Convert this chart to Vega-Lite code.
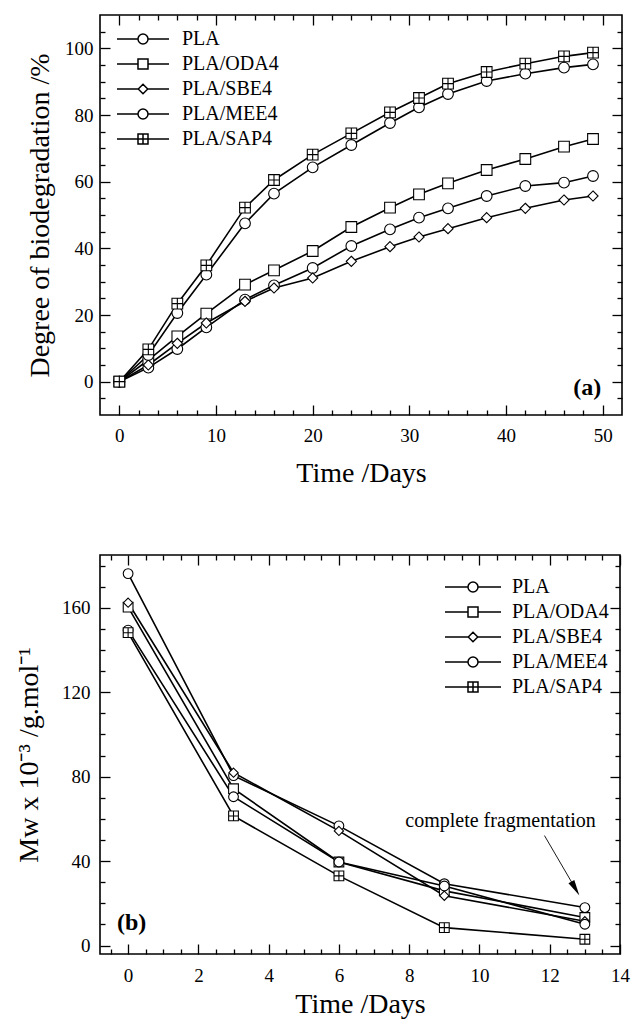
{
  "$schema": "https://vega.github.io/schema/vega-lite/v6.json",
  "background": "white",
  "padding": {"left": 14, "top": 13, "right": 0, "bottom": 0},
  "spacing": 140,
  "bounds": "flush",
  "datasets": {
    "top": [
      {"t": 0, "deg": 0, "s": "PLA"}, {"t": 3, "deg": 4.2, "s": "PLA"}, {"t": 6, "deg": 9.8, "s": "PLA"}, {"t": 9, "deg": 16.3, "s": "PLA"}, {"t": 13, "deg": 24.6, "s": "PLA"}, {"t": 16, "deg": 28.9, "s": "PLA"}, {"t": 20, "deg": 34.1, "s": "PLA"}, {"t": 24, "deg": 40.7, "s": "PLA"}, {"t": 28, "deg": 45.7, "s": "PLA"}, {"t": 31, "deg": 49.2, "s": "PLA"}, {"t": 34, "deg": 52.0, "s": "PLA"}, {"t": 38, "deg": 55.7, "s": "PLA"}, {"t": 42, "deg": 58.7, "s": "PLA"}, {"t": 46, "deg": 59.7, "s": "PLA"}, {"t": 49, "deg": 61.7, "s": "PLA"},
      {"t": 0, "deg": 0, "s": "PLA/ODA4"}, {"t": 3, "deg": 6.5, "s": "PLA/ODA4"}, {"t": 6, "deg": 13.6, "s": "PLA/ODA4"}, {"t": 9, "deg": 20.4, "s": "PLA/ODA4"}, {"t": 13, "deg": 29.1, "s": "PLA/ODA4"}, {"t": 16, "deg": 33.4, "s": "PLA/ODA4"}, {"t": 20, "deg": 39.2, "s": "PLA/ODA4"}, {"t": 24, "deg": 46.4, "s": "PLA/ODA4"}, {"t": 28, "deg": 52.2, "s": "PLA/ODA4"}, {"t": 31, "deg": 56.2, "s": "PLA/ODA4"}, {"t": 34, "deg": 59.5, "s": "PLA/ODA4"}, {"t": 38, "deg": 63.5, "s": "PLA/ODA4"}, {"t": 42, "deg": 66.8, "s": "PLA/ODA4"}, {"t": 46, "deg": 70.5, "s": "PLA/ODA4"}, {"t": 49, "deg": 72.8, "s": "PLA/ODA4"},
      {"t": 0, "deg": 0, "s": "PLA/SBE4"}, {"t": 3, "deg": 5.0, "s": "PLA/SBE4"}, {"t": 6, "deg": 11.5, "s": "PLA/SBE4"}, {"t": 9, "deg": 17.6, "s": "PLA/SBE4"}, {"t": 13, "deg": 24.1, "s": "PLA/SBE4"}, {"t": 16, "deg": 28.1, "s": "PLA/SBE4"}, {"t": 20, "deg": 31.1, "s": "PLA/SBE4"}, {"t": 24, "deg": 36.1, "s": "PLA/SBE4"}, {"t": 28, "deg": 40.5, "s": "PLA/SBE4"}, {"t": 31, "deg": 43.4, "s": "PLA/SBE4"}, {"t": 34, "deg": 45.9, "s": "PLA/SBE4"}, {"t": 38, "deg": 49.2, "s": "PLA/SBE4"}, {"t": 42, "deg": 52.0, "s": "PLA/SBE4"}, {"t": 46, "deg": 54.5, "s": "PLA/SBE4"}, {"t": 49, "deg": 55.7, "s": "PLA/SBE4"},
      {"t": 0, "deg": 0, "s": "PLA/MEE4"}, {"t": 3, "deg": 8.0, "s": "PLA/MEE4"}, {"t": 6, "deg": 20.6, "s": "PLA/MEE4"}, {"t": 9, "deg": 32.1, "s": "PLA/MEE4"}, {"t": 13, "deg": 47.5, "s": "PLA/MEE4"}, {"t": 16, "deg": 56.4, "s": "PLA/MEE4"}, {"t": 20, "deg": 64.3, "s": "PLA/MEE4"}, {"t": 24, "deg": 71.0, "s": "PLA/MEE4"}, {"t": 28, "deg": 77.6, "s": "PLA/MEE4"}, {"t": 31, "deg": 82.3, "s": "PLA/MEE4"}, {"t": 34, "deg": 86.3, "s": "PLA/MEE4"}, {"t": 38, "deg": 90.2, "s": "PLA/MEE4"}, {"t": 42, "deg": 92.4, "s": "PLA/MEE4"}, {"t": 46, "deg": 94.2, "s": "PLA/MEE4"}, {"t": 49, "deg": 95.2, "s": "PLA/MEE4"},
      {"t": 0, "deg": 0, "s": "PLA/SAP4"}, {"t": 3, "deg": 9.7, "s": "PLA/SAP4"}, {"t": 6, "deg": 23.4, "s": "PLA/SAP4"}, {"t": 9, "deg": 34.9, "s": "PLA/SAP4"}, {"t": 13, "deg": 52.2, "s": "PLA/SAP4"}, {"t": 16, "deg": 60.5, "s": "PLA/SAP4"}, {"t": 20, "deg": 68.1, "s": "PLA/SAP4"}, {"t": 24, "deg": 74.5, "s": "PLA/SAP4"}, {"t": 28, "deg": 80.8, "s": "PLA/SAP4"}, {"t": 31, "deg": 85.1, "s": "PLA/SAP4"}, {"t": 34, "deg": 89.4, "s": "PLA/SAP4"}, {"t": 38, "deg": 92.9, "s": "PLA/SAP4"}, {"t": 42, "deg": 95.4, "s": "PLA/SAP4"}, {"t": 46, "deg": 97.6, "s": "PLA/SAP4"}, {"t": 49, "deg": 98.7, "s": "PLA/SAP4"}
    ],
    "bottom": [
      {"t": 0, "mw": 176.2, "s": "PLA"}, {"t": 3, "mw": 80.5, "s": "PLA"}, {"t": 6, "mw": 56.7, "s": "PLA"}, {"t": 9, "mw": 29.3, "s": "PLA"}, {"t": 13, "mw": 18.0, "s": "PLA"},
      {"t": 0, "mw": 160.3, "s": "PLA/ODA4"}, {"t": 3, "mw": 74.3, "s": "PLA/ODA4"}, {"t": 6, "mw": 39.6, "s": "PLA/ODA4"}, {"t": 9, "mw": 25.9, "s": "PLA/ODA4"}, {"t": 13, "mw": 13.3, "s": "PLA/ODA4"},
      {"t": 0, "mw": 162.4, "s": "PLA/SBE4"}, {"t": 3, "mw": 81.9, "s": "PLA/SBE4"}, {"t": 6, "mw": 54.3, "s": "PLA/SBE4"}, {"t": 9, "mw": 23.6, "s": "PLA/SBE4"}, {"t": 13, "mw": 11.5, "s": "PLA/SBE4"},
      {"t": 0, "mw": 149.4, "s": "PLA/MEE4"}, {"t": 3, "mw": 70.5, "s": "PLA/MEE4"}, {"t": 6, "mw": 39.6, "s": "PLA/MEE4"}, {"t": 9, "mw": 28.2, "s": "PLA/MEE4"}, {"t": 13, "mw": 10.1, "s": "PLA/MEE4"},
      {"t": 0, "mw": 148.2, "s": "PLA/SAP4"}, {"t": 3, "mw": 61.4, "s": "PLA/SAP4"}, {"t": 6, "mw": 33.0, "s": "PLA/SAP4"}, {"t": 9, "mw": 8.5, "s": "PLA/SAP4"}, {"t": 13, "mw": 3.0, "s": "PLA/SAP4"}
    ]
  },
  "vconcat": [
    {
      "width": 522,
      "height": 400,
      "layer": [
        {
          "encoding": {
            "x": {"field": "t", "type": "quantitative", "scale": {"domain": [-2, 52], "nice": false, "zero": false},
              "axis": {"orient": "bottom", "title": "Time /Days", "values": [0,2,4,6,8,10,12,14,16,18,20,22,24,26,28,30,32,34,36,38,40,42,44,46,48,50],
                "labelExpr": "datum.value % 10 === 0 ? datum.label : ''",
                "tickSize": {"condition": {"test": "datum.value % 10 === 0", "value": -10}, "value": -5},
                "labelPadding": 21, "titlePadding": 9}},
            "y": {"field": "deg", "type": "quantitative", "scale": {"domain": [-10, 110], "nice": false, "zero": false},
              "axis": {"orient": "left", "title": "Degree of biodegradation /%", "values": [-5,0,5,10,15,20,25,30,35,40,45,50,55,60,65,70,75,80,85,90,95,100,105],
                "labelExpr": "datum.value % 20 === 0 ? datum.label : ''",
                "tickSize": {"condition": {"test": "datum.value % 20 === 0", "value": -10}, "value": -5},
                "labelPadding": 17, "titlePadding": 10}}
          },
          "layer": [
            {"data": {"name": "top"}, "mark": {"type": "line", "color": "black", "strokeWidth": 1.6}, "encoding": {"detail": {"field": "s"}}},
            {"data": {"name": "top"}, "mark": {"type": "point", "filled": true, "fill": "white", "stroke": "black", "strokeWidth": 1.1, "size": 115, "opacity": 1},
              "encoding": {"shape": {"field": "s", "type": "nominal", "legend": null,
                "scale": {"domain": ["PLA", "PLA/ODA4", "PLA/SBE4", "PLA/MEE4", "PLA/SAP4"],
                  "range": ["M1,0A1,1,0,1,1,-1,0A1,1,0,1,1,1,0Z", "M-1,-1H1V1H-1Z", "M0,-0.95L0.95,0L0,0.95L-0.95,0Z", "M1,0A1,1,0,1,1,-1,0A1,1,0,1,1,1,0Z", "M-1,-1H1V1H-1Z M0,-1V1 M-1,0H1"]}}}},
            {"data": {"name": "top"}, "transform": [{"filter": "false"}],
              "mark": {"type": "point", "filled": true, "fill": "white", "stroke": "black", "strokeWidth": 1.1, "size": 121, "opacity": 1},
              "encoding": {"shape": {"field": "s", "type": "nominal",
                "scale": {"domain": ["PLA", "PLA/ODA4", "PLA/SBE4", "PLA/MEE4", "PLA/SAP4"],
                  "range": ["M1,0A1,1,0,1,1,-1,0A1,1,0,1,1,1,0Z M-5.2,0H-1 M1,0H5.2", "M-1,-1H1V1H-1Z M-5.2,0H-1 M1,0H5.2", "M0,-0.95L0.95,0L0,0.95L-0.95,0Z M-5.2,0H-0.95 M0.95,0H5.2", "M1,0A1,1,0,1,1,-1,0A1,1,0,1,1,1,0Z M-5.2,0H-1 M1,0H5.2", "M-1,-1H1V1H-1Z M0,-1V1 M-1,0H1 M-5.2,0H-1 M1,0H5.2"]},
                "legend": {"title": null, "orient": "none", "legendX": 33, "legendY": 14,
                  "labelFont": "Liberation Serif", "labelFontSize": 20, "labelColor": "black",
                  "labelOffset": 29, "rowPadding": 5}}}},
            {"data": {"values": [{"t": 48.4, "deg": -2, "label": "(a)"}]}, "mark": {"type": "text", "font": "Liberation Serif", "fontWeight": "bold", "fontSize": 24, "color": "black", "align": "center", "baseline": "middle"},
              "encoding": {"text": {"field": "label"}}}
          ],
          "resolve": {"scale": {"shape": "independent"}, "legend": {"shape": "independent"}}
        },
        {
          "data": {"name": "top"},
          "mark": {"type": "point", "opacity": 0},
          "encoding": {
            "x": {"field": "t", "type": "quantitative", "scale": {"domain": [-2, 52], "nice": false, "zero": false},
              "axis": {"orient": "top", "title": null, "labels": false, "values": [0,2,4,6,8,10,12,14,16,18,20,22,24,26,28,30,32,34,36,38,40,42,44,46,48,50],
                "tickSize": {"condition": {"test": "datum.value % 10 === 0", "value": -10}, "value": -5}}},
            "y": {"field": "deg", "type": "quantitative", "scale": {"domain": [-10, 110], "nice": false, "zero": false},
              "axis": {"orient": "right", "title": null, "labels": false, "values": [-5,0,5,10,15,20,25,30,35,40,45,50,55,60,65,70,75,80,85,90,95,100,105],
                "tickSize": {"condition": {"test": "datum.value % 20 === 0", "value": -10}, "value": -5}}}
          }
        }
      ],
      "resolve": {"axis": {"x": "independent", "y": "independent"}}
    },
    {
      "width": 520,
      "height": 399,
      "layer": [
        {
          "encoding": {
            "x": {"field": "t", "type": "quantitative", "scale": {"domain": [-0.8, 14], "nice": false, "zero": false},
              "axis": {"orient": "bottom", "title": "Time /Days", "values": [-0.5,0,0.5,1,1.5,2,2.5,3,3.5,4,4.5,5,5.5,6,6.5,7,7.5,8,8.5,9,9.5,10,10.5,11,11.5,12,12.5,13,13.5,14],
                "labelExpr": "datum.value % 2 === 0 ? '' + datum.value : ''",
                "tickSize": {"condition": {"test": "datum.value % 2 === 0", "value": -10}, "value": -5},
                "labelPadding": 22, "titlePadding": 0}},
            "y": {"field": "mw", "type": "quantitative", "scale": {"domain": [-4, 185], "nice": false, "zero": false},
              "axis": {"orient": "left", "title": "Mw x 10⁻³ /g.mol⁻¹", "values": [0,10,20,30,40,50,60,70,80,90,100,110,120,130,140,150,160,170,180],
                "labelExpr": "datum.value % 40 === 0 ? datum.label : ''",
                "tickSize": {"condition": {"test": "datum.value % 40 === 0", "value": -10}, "value": -5},
                "labelPadding": 20, "titlePadding": 18}}
          },
          "layer": [
            {"data": {"name": "bottom"}, "mark": {"type": "line", "color": "black", "strokeWidth": 1.6}, "encoding": {"detail": {"field": "s"}}},
            {"data": {"name": "bottom"}, "mark": {"type": "point", "filled": true, "fill": "white", "stroke": "black", "strokeWidth": 1.1, "size": 95, "opacity": 1},
              "encoding": {"shape": {"field": "s", "type": "nominal", "legend": null,
                "scale": {"domain": ["PLA", "PLA/ODA4", "PLA/SBE4", "PLA/MEE4", "PLA/SAP4"],
                  "range": ["M1,0A1,1,0,1,1,-1,0A1,1,0,1,1,1,0Z", "M-1,-1H1V1H-1Z", "M0,-0.95L0.95,0L0,0.95L-0.95,0Z", "M1,0A1,1,0,1,1,-1,0A1,1,0,1,1,1,0Z", "M-1,-1H1V1H-1Z M0,-1V1 M-1,0H1"]}}}},
            {"data": {"name": "bottom"}, "transform": [{"filter": "false"}],
              "mark": {"type": "point", "filled": true, "fill": "white", "stroke": "black", "strokeWidth": 1.1, "size": 100, "opacity": 1},
              "encoding": {"shape": {"field": "s", "type": "nominal",
                "scale": {"domain": ["PLA", "PLA/ODA4", "PLA/SBE4", "PLA/MEE4", "PLA/SAP4"],
                  "range": ["M1,0A1,1,0,1,1,-1,0A1,1,0,1,1,1,0Z M-5.6,0H-1 M1,0H5.6", "M-1,-1H1V1H-1Z M-5.6,0H-1 M1,0H5.6", "M0,-0.95L0.95,0L0,0.95L-0.95,0Z M-5.6,0H-0.95 M0.95,0H5.6", "M1,0A1,1,0,1,1,-1,0A1,1,0,1,1,1,0Z M-5.6,0H-1 M1,0H5.6", "M-1,-1H1V1H-1Z M0,-1V1 M-1,0H1 M-5.6,0H-1 M1,0H5.6"]},
                "legend": {"title": null, "orient": "none", "legendX": 363, "legendY": 22,
                  "labelFont": "Liberation Serif", "labelFontSize": 20, "labelColor": "black",
                  "labelOffset": 29, "rowPadding": 5}}}},
            {"data": {"values": [{"t": 0.1, "mw": 10.9, "label": "(b)"}]}, "mark": {"type": "text", "font": "Liberation Serif", "fontWeight": "bold", "fontSize": 24, "color": "black", "align": "center", "baseline": "middle"},
              "encoding": {"text": {"field": "label"}}},
            {"data": {"values": [{"t": 10.6, "mw": 59.2, "label": "complete fragmentation"}]}, "mark": {"type": "text", "font": "Liberation Serif", "fontSize": 20, "color": "black", "align": "center", "baseline": "middle"},
              "encoding": {"text": {"field": "label"}}},
            {"data": {"values": [{"t": 11.85, "mw": 52.1, "t2": 12.73, "mw2": 27.0}]}, "mark": {"type": "rule", "color": "black", "strokeWidth": 0.9},
              "encoding": {"x2": {"field": "t2"}, "y2": {"field": "mw2"}}},
            {"data": {"values": [{"t": 12.73, "mw": 27.0}]}, "mark": {"type": "point", "shape": "M0,1L-0.42,-1L0.42,-1Z", "filled": true, "color": "black", "size": 256, "angle": 330, "opacity": 1}}
          ],
          "resolve": {"scale": {"shape": "independent"}, "legend": {"shape": "independent"}}
        },
        {
          "data": {"name": "bottom"},
          "mark": {"type": "point", "opacity": 0},
          "encoding": {
            "x": {"field": "t", "type": "quantitative", "scale": {"domain": [-0.8, 14], "nice": false, "zero": false},
              "axis": {"orient": "top", "title": null, "labels": false, "values": [-0.5,0,0.5,1,1.5,2,2.5,3,3.5,4,4.5,5,5.5,6,6.5,7,7.5,8,8.5,9,9.5,10,10.5,11,11.5,12,12.5,13,13.5,14],
                "tickSize": {"condition": {"test": "datum.value % 2 === 0", "value": -10}, "value": -5}}},
            "y": {"field": "mw", "type": "quantitative", "scale": {"domain": [-4, 185], "nice": false, "zero": false},
              "axis": {"orient": "right", "title": null, "labels": false, "values": [0,10,20,30,40,50,60,70,80,90,100,110,120,130,140,150,160,170,180],
                "tickSize": {"condition": {"test": "datum.value % 40 === 0", "value": -10}, "value": -5}}}
          }
        }
      ],
      "resolve": {"axis": {"x": "independent", "y": "independent"}}
    }
  ],
  "resolve": {"scale": {"shape": "independent"}, "legend": {"shape": "independent"}},
  "config": {
    "view": {"stroke": "black", "strokeWidth": 1.6},
    "font": "Liberation Serif",
    "axis": {"labelFont": "Liberation Serif", "labelFontSize": 19, "labelColor": "black", "titleFont": "Liberation Serif", "titleFontSize": 28, "titleFontWeight": "normal", "titleColor": "black", "tickColor": "black", "tickWidth": 1.3, "domain": false, "grid": false, "labelFlush": false, "labelOverlap": false, "labelBound": false},
    "text": {"font": "Liberation Serif", "color": "black"}
  }
}
